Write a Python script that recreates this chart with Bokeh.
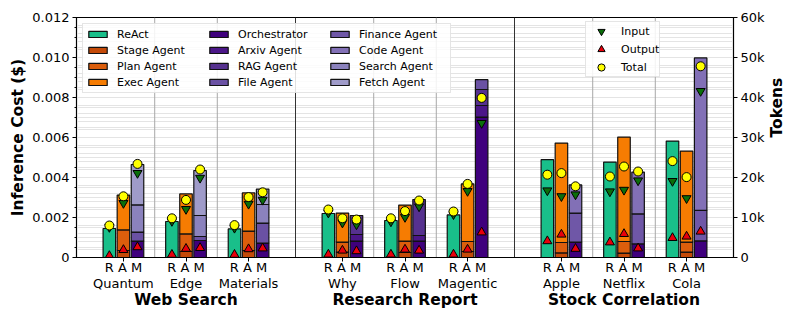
import math
from bokeh.plotting import figure
from bokeh.models import (Range1d, LinearAxis, FixedTicker, SingleIntervalTicker, Grid, Span,
                          Legend, LegendItem, PrintfTickFormatter)
from bokeh.embed import file_html
from bokeh.resources import INLINE

# ---------------- data ----------------
groups = ["Web Search", "Research Report", "Stock Correlation"]
tasks = ["Quantum", "Edge", "Materials", "Why", "Flow", "Magentic", "Apple", "Netflix", "Cola"]
task_group = [0, 0, 0, 1, 1, 1, 2, 2, 2]
systems = ["R", "A", "M"]

# inference cost ($) per agent (segment heights)
react = [0.00145, 0.0018, 0.00143, 0.0022, 0.00185, 0.00213, 0.00489, 0.00477, 0.00582]
stage = [0.00035, 0.0003, 0.00035, 0.00027, 0.00025, 0.0003, 0.00023, 0.00022, 0.00027]
plan = [0.00103, 0.00088, 0.00097, 0.0005, 0.00057, 0.0005, 0.00052, 0.00058, 0.0005]
execa = [0.00174, 0.002, 0.00191, 0.00145, 0.0018, 0.00288, 0.00497, 0.00522, 0.00455]
orch = [0.00082, 0.00085, 0.00072, 0.00082, 0.00082, 0.00702, 0.00077, 0.00068, 0.00083]
arxiv = [0, 0, 0, 0.00033, 0.00028, 0.00058, 0, 0, 0]
rag = [0, 0, 0, 0.00095, 0.0018, 0.0008, 0, 0, 0]
filea = [0.00045, 0.0002, 0.001, 0, 0, 0.00049, 0, 0, 0]
finance = [0, 0, 0, 0, 0, 0, 0.00145, 0.0015, 0.00153]
code = [0, 0, 0, 0, 0, 0, 0.00141, 0.00209, 0.00762]
search = [0.00136, 0.00105, 0.00093, 0, 0, 0, 0, 0, 0]
fetch = [0.00202, 0.00225, 0.00077, 0, 0, 0, 0, 0, 0]

# tokens
input_R = [7600, 9100, 7400, 11200, 9000, 10800, 16750, 16500, 19100]
output_R = [400, 700, 700, 750, 750, 750, 4100, 3800, 4900]
total_R = [8000, 9800, 8100, 12000, 9800, 11500, 20700, 20250, 24100]
input_A = [13600, 12100, 13400, 8700, 10100, 16600, 15300, 16900, 14800]
output_A = [1900, 2200, 2100, 1750, 2000, 2000, 5750, 5900, 5250]
total_A = [15300, 14400, 15100, 9800, 11600, 18400, 21100, 22750, 20100]
input_M = [21100, 19900, 14400, 8250, 12750, 33600, 15750, 19250, 41600]
output_M = [2600, 2400, 2300, 1600, 1750, 6300, 2200, 2300, 6500]
total_M = [23400, 22000, 16300, 9500, 14250, 39900, 17800, 21500, 47800]

cost_ticks_labels = {0: "0"}
token_ticks = [0, 10000, 20000, 30000, 40000, 50000, 60000]
token_labels = ["0", "10k", "20k", "30k", "40k", "50k", "60k"]

# ---------------- styling ----------------
FONT = "DejaVu Sans"
BAR_W = 0.2
OFFS = {"R": -0.225, "A": 0.0, "M": 0.225}

n = len(tasks)
task_x = [i + 0.5 * task_group[i] for i in range(n)]
group_x = [sum(task_x[i] for i in range(n) if task_group[i] == g) /
           sum(1 for i in range(n) if task_group[i] == g) for g in range(len(groups))]

p = figure(frame_width=657, frame_height=240, output_backend="svg", toolbar_location=None,
           x_range=Range1d(-0.75, task_x[-1] + 0.75), y_range=Range1d(0, 0.012),
           min_border_left=76, min_border_right=62, min_border_top=17, min_border_bottom=0)
p.extra_y_ranges = {"tokens": Range1d(0, 60000)}
p.outline_line_color = "black"
p.outline_line_width = 1.2
p.background_fill_color = "white"

# grids
p.xgrid.visible = False
p.ygrid.ticker = SingleIntervalTicker(interval=0.002, num_minor_ticks=4)
p.ygrid.grid_line_color = "#c4c4c4"
p.ygrid.minor_grid_line_color = "#e4e4e4"
g2 = Grid(dimension=1, y_range_name="tokens",
          ticker=SingleIntervalTicker(interval=10000, num_minor_ticks=5),
          grid_line_color=None, minor_grid_line_color="#e4e4e4")
p.add_layout(g2)

# separators
for i in range(n - 1):
    m = (task_x[i] + task_x[i + 1]) / 2
    dark = task_group[i] != task_group[i + 1]
    p.add_layout(Span(location=m, dimension="height", level="underlay",
                      line_color="#333333" if dark else "#a8a8a8", line_width=1))

# bars
def stack(names, arrays, colors, off):
    base = [0.0] * n
    rends = {}
    for name, arr, col in zip(names, arrays, colors):
        xs, bots, tops = [], [], []
        for i in range(n):
            if arr[i] > 0:
                xs.append(task_x[i] + off)
                bots.append(base[i])
                tops.append(base[i] + arr[i])
                base[i] += arr[i]
        rends[name] = p.vbar(x=xs, bottom=bots, top=tops, width=BAR_W, fill_color=col,
                             line_color="#111111", line_width=1.2)
    return rends

agent_names = ["ReAct", "Stage Agent", "Plan Agent", "Exec Agent", "Orchestrator", "Arxiv Agent",
               "RAG Agent", "File Agent", "Finance Agent", "Code Agent", "Search Agent", "Fetch Agent"]
agent_colors = ["#19bf8a", "#c44a08", "#dc5e0c", "#f67c02", "#3f007d", "#4b1688", "#56318f",
                "#6a51a3", "#6f57a7", "#8270b6", "#8b82bd", "#9f9bc9"]

rends = {}
rends.update(stack(agent_names[0:1], [react], agent_colors[0:1], OFFS["R"]))
rends.update(stack(agent_names[1:4], [stage, plan, execa], agent_colors[1:4], OFFS["A"]))
rends.update(stack(agent_names[4:], [orch, arxiv, rag, filea, finance, code, search, fetch],
                   agent_colors[4:], OFFS["M"]))

# token markers
def pts(rv, av, mv):
    xs, ys = [], []
    for s, vals in zip(systems, [rv, av, mv]):
        for i in range(n):
            xs.append(task_x[i] + OFFS[s])
            ys.append(vals[i])
    return xs, ys

xi, yi = pts(input_R, input_A, input_M)
xo, yo = pts(output_R, output_A, output_M)
xt, yt = pts(total_R, total_A, total_M)
r_in = p.scatter(xi, yi, marker="inverted_triangle", size=9, fill_color="#0a6e0a",
                 line_color="black", line_width=1, y_range_name="tokens")
r_out = p.scatter(xo, yo, marker="triangle", size=9, fill_color="#e8000b",
                  line_color="black", line_width=1, y_range_name="tokens")
r_tot = p.scatter(xt, yt, marker="circle", size=9, fill_color="#ffff00",
                  line_color="black", line_width=1, y_range_name="tokens")

# axes
ya = p.yaxis[0]
ya.ticker = SingleIntervalTicker(interval=0.002, num_minor_ticks=4)
ya.formatter = PrintfTickFormatter(format="%.3f")
ya.major_label_overrides = cost_ticks_labels
ya.axis_label = "Inference Cost ($)"

ra = LinearAxis(y_range_name="tokens", ticker=FixedTicker(ticks=token_ticks),
                major_label_overrides=dict(zip(token_ticks, token_labels)))
ra.axis_label = "Tokens"
ra.axis_label_orientation = math.pi / 2
p.add_layout(ra, "right")

for ax in [ya, ra]:
    ax.axis_label_text_font = FONT
    ax.axis_label_text_font_style = "bold"
    ax.axis_label_text_font_size = "15.5px"
    ax.axis_label_text_color = "black"
ya.axis_label_standoff = 2
ra.axis_label_standoff = 9

xa = p.xaxis[0]
xa.ticker = FixedTicker(ticks=task_x)
xa.major_label_overrides = {task_x[i]: " ".join(systems) + "\n" + tasks[i] for i in range(n)}

ga = LinearAxis(ticker=FixedTicker(ticks=group_x),
                major_label_overrides={group_x[g]: groups[g] for g in range(len(groups))})
p.add_layout(ga, "below")

for ax in [ya, ra, xa, ga]:
    ax.major_label_text_font = FONT
    ax.major_label_text_color = "black"
    ax.axis_line_color = "black"
    ax.major_tick_out = 4
    ax.major_tick_in = 0
    ax.minor_tick_out = 2
    ax.minor_tick_in = 0
    ax.major_label_standoff = 3
for ax in [ya, ra, xa]:
    ax.major_label_text_font_size = "13px"
xa.minor_tick_line_color = None
ra.minor_tick_line_color = None
xa.major_label_standoff = -2
xa.major_label_text_line_height = 1.07

ga.axis_line_color = None
ga.major_tick_line_color = None
ga.minor_tick_line_color = None
ga.major_tick_out = 0
ga.major_label_text_font_style = "bold"
ga.major_label_text_font_size = "15.5px"
ga.major_label_standoff = -3

# legends
leg1 = Legend(items=[LegendItem(label=nm, renderers=[rends[nm]]) for nm in agent_names],
              ncols=3, location="top_left", margin=6, padding=3, spacing=2,
              glyph_width=23, glyph_height=8, label_height=14, label_width=88, label_standoff=8,
              label_text_font=FONT, label_text_font_size="11px", label_text_color="black",
              border_line_color="#cccccc", background_fill_alpha=0.85)
leg2 = Legend(items=[LegendItem(label="Input", renderers=[r_in]),
                     LegendItem(label="Output", renderers=[r_out]),
                     LegendItem(label="Total", renderers=[r_tot])],
              location=(509, 180), padding=0, spacing=0,
              glyph_width=30, glyph_height=18, label_height=14, label_standoff=5,
              label_text_font=FONT, label_text_font_size="11px", label_text_color="black",
              border_line_color="#cccccc", background_fill_alpha=0.85)
p.add_layout(leg1)
p.add_layout(leg2)

open("out.html", "w").write(file_html(p, INLINE))
